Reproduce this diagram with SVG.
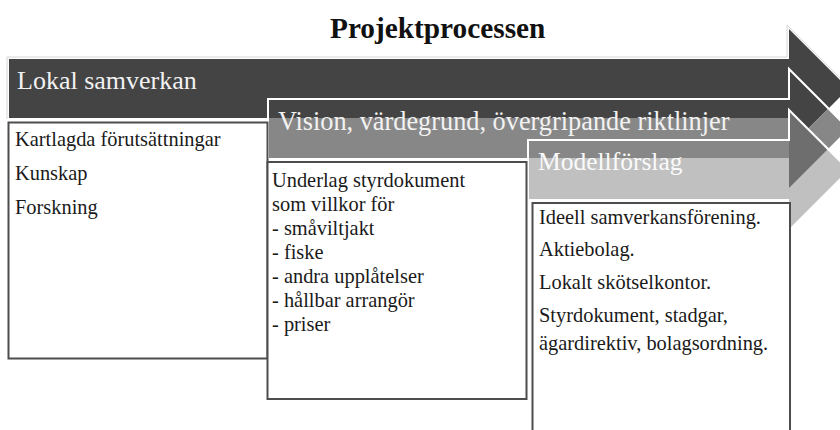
<svg xmlns="http://www.w3.org/2000/svg" width="840" height="430" viewBox="0 0 840 430">
<style>
  text { font-family: "Liberation Serif", "Times New Roman", serif; }
  .title { font-size: 29.3px; font-weight: bold; fill: #111; }
  .alabel { font-size: 26px; fill: #f2f2f2; }
  .btext { font-size: 20.4px; fill: #1a1a1a; }
  .box { fill: #fff; stroke: #4d4d4d; stroke-width: 2; }
  .edge { fill: none; stroke: #fff; stroke-width: 2; }
  .faint { fill: none; stroke: #d6d6d6; stroke-width: 1; }
</style>
<rect width="840" height="430" fill="#fff"/>

<g id="title">
  <text class="title" x="330" y="37.5">Projektprocessen</text>
</g>

<g id="arrow1">
  <path class="faint" d="M7,119 V57 H787 V25 L851,89"/>
  <path fill="#444444" d="M9,59 H789 V29 L848.5,88.5 L789,148 V118 H9 Z"/>
  <text class="alabel" x="17" y="89">Lokal samverkan</text>
</g>

<g id="arrow2">
  <path fill="#878787" d="M268,118 H789 V148 L828.5,108.5 L848.5,128.5 L789,188 V158 H268 Z"/>
  <path class="edge" d="M268,158 V99 H789 V69 L849,129"/>
  <text class="alabel" x="278" y="129.5" style="font-size:26.3px">Vision, värdegrund, övergripande riktlinjer</text>
</g>

<g id="arrow3">
  <path fill="#c0c0c0" d="M528,158 H789 V188 L828,149 L848.5,169.5 L789,229 V199 H528 Z"/>
  <path fill="#6e6e6e" d="M789,110 L828,149 L789,188 Z"/>
  <path class="edge" d="M528,199 V140 H789 V110 L849,170"/>
  <text class="alabel" x="538" y="170" style="font-size:25.5px;fill:#fafafa">Modellförslag</text>
</g>

<g id="box1">
  <rect class="box" x="8.5" y="122.5" width="259" height="236"/>
  <text class="btext" x="15" y="146">Kartlagda förutsättningar</text>
  <text class="btext" x="15" y="180">Kunskap</text>
  <text class="btext" x="15" y="214">Forskning</text>
</g>

<g id="box2">
  <rect class="box" x="267.5" y="162" width="259" height="237"/>
  <text class="btext" x="272" y="186.5">Underlag styrdokument</text>
  <text class="btext" x="272" y="210.5">som villkor för</text>
  <text class="btext" x="272" y="234.5">- småviltjakt</text>
  <text class="btext" x="272" y="258.5">- fiske</text>
  <text class="btext" x="272" y="282.5">- andra upplåtelser</text>
  <text class="btext" x="272" y="306.5">- hållbar arrangör</text>
  <text class="btext" x="272" y="331">- priser</text>
</g>

<g id="box3">
  <rect class="box" x="532.5" y="203" width="257.5" height="240"/>
  <text class="btext" x="539" y="223.5">Ideell samverkansförening.</text>
  <text class="btext" x="539" y="255.5">Aktiebolag.</text>
  <text class="btext" x="539" y="288.5">Lokalt skötselkontor.</text>
  <text class="btext" x="539" y="321.5">Styrdokument, stadgar,</text>
  <text class="btext" x="539" y="350">ägardirektiv, bolagsordning.</text>
</g>

<g id="connectors"></g>
</svg>
